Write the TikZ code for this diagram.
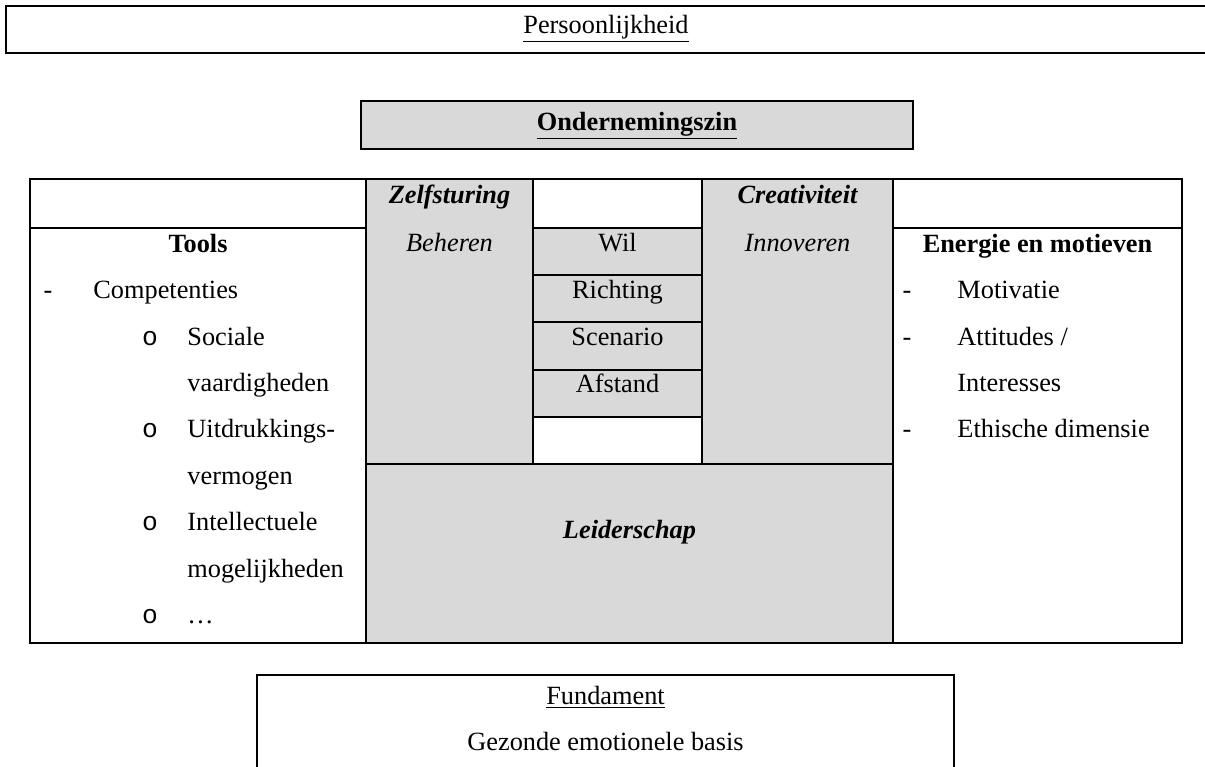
\documentclass[tikz,border=0pt]{standalone}
\usepackage{fontspec}
\setmainfont{Liberation Serif}
\newfontfamily\bulletfont{Liberation Mono}
\definecolor{cellgray}{HTML}{D9D9D9}
\tikzset{
    frame/.style={draw, line width=0.75pt}, % kaders rond de losse blokken
    grid line/.style={line width=0.55pt}, % lijnen van de tabel
    txt/.style={inner sep=0pt, anchor=base}, % tekst gecentreerd op de basislijn
    list txt/.style={inner sep=0pt, anchor=base west} % tekst van de opsommingen
}

\begin{document}
\begin{tikzpicture}[x=0.456pt, y=-0.456pt, font=\fontsize{12}{14}\selectfont]
    \useasboundingbox (0,0) rectangle (1205,767);
    \def\xa{30} \def\xb{366} \def\xc{533} \def\xd{702} \def\xe{893} \def\xf{1182}
    \def\ya{179} \def\yb{228} \def\yc{464} \def\yd{643}

    % bovenste kaders
    \draw[frame] (1215,6) -- (6,6) -- (6,53) -- (1215,53);
    \node[txt] (pers) at (606,33) {\underline{Persoonlijkheid}};
    \draw[frame, fill=cellgray] (361,101) rectangle (913,149);
    \node[txt] (onder) at (637,130) {\bfseries\underline{Ondernemingszin}};

    % tabel
    \fill[cellgray] (\xb,\ya) rectangle (\xc,\yc);
    \fill[cellgray] (\xd,\ya) rectangle (\xe,\yc);
    \fill[cellgray] (\xc,\yb) rectangle (\xd,417);
    \fill[cellgray] (\xb,\yc) rectangle (\xe,\yd);
    \draw[grid line] (\xa,\ya) rectangle (\xf,\yd);
    \draw[grid line] (\xa,\yb) -- (\xb,\yb) (\xc,\yb) -- (\xd,\yb) (\xe,\yb) -- (\xf,\yb);
    \draw[grid line] (\xb,\ya) -- (\xb,\yd) (\xe,\ya) -- (\xe,\yd);
    \draw[grid line] (\xc,\ya) -- (\xc,\yc) (\xd,\ya) -- (\xd,\yc) (\xb,\yc) -- (\xe,\yc);
    \foreach \y in {275,322,370,417} {\draw[grid line] (\xc,\y) -- (\xd,\y);}

    \node[txt] (zelf) at (449.5,203) {\bfseries\itshape Zelfsturing};
    \node[txt] (beheer) at (449.5,251) {\itshape Beheren};
    \node[txt] (crea) at (797.5,203) {\bfseries\itshape Creativiteit};
    \node[txt] (innov) at (797.5,251) {\itshape Innoveren};
    \foreach \y/\w [count=\i] in {251/Wil, 298/Richting, 345/Scenario, 392/Afstand} {\node[txt] (mid\i) at (617.5,\y) {\w};}
    \node[txt] (leider) at (629.5,538) {\bfseries\itshape Leiderschap};

    % linker kolom
    \node[txt] (tools) at (198,252) {\bfseries Tools};
    \node[txt] (streep) at (48,298) {-};
    \node[list txt] (comp) at (93,298) {Competenties};
    \foreach \y [count=\i] in {345,437,530,623} {\node[txt] (bol\i) at (150,\y) {\bulletfont o};}
    \foreach \y/\t [count=\i] in {345/Sociale, 391/vaardigheden, 437/Uitdrukkings-, 484/vermogen, 530/Intellectuele, 577/mogelijkheden, 623/…} {\node[list txt] (item\i) at (187,\y) {\t};}

    % rechter kolom
    \node[txt] (energie) at (1037.5,252) {\bfseries Energie en motieven};
    \foreach \y [count=\i] in {298,345,437} {\node[txt] (streep\i) at (907,\y) {-};}
    \foreach \y/\t [count=\i] in {298/Motivatie, 345/{Attitudes /}, 391/Interesses, 437/Ethische dimensie} {\node[list txt] (motief\i) at (957,\y) {\t};}

    % fundament
    \draw[frame] (257,775) -- (257,675) -- (954,675) -- (954,775);
    \node[txt] (fund) at (605.5,704) {\underline{Fundament}};
    \node[txt] (basis) at (605.5,750) {Gezonde emotionele basis};
\end{tikzpicture}
\end{document}
